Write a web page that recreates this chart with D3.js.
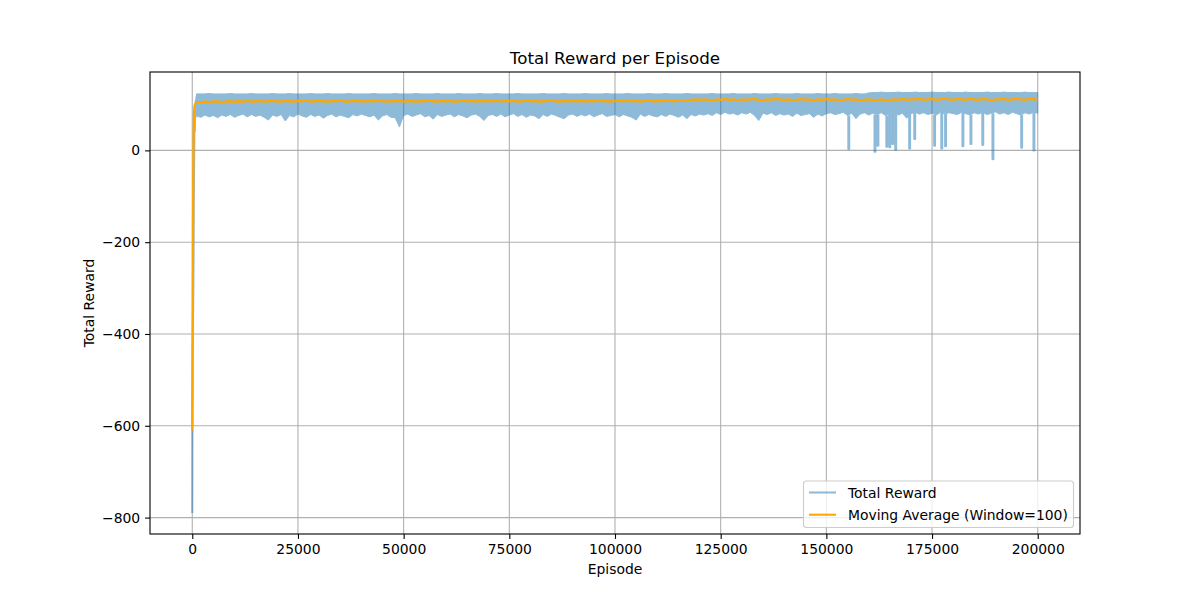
<!DOCTYPE html>
<html><head><meta charset="utf-8">
<script src="https://cdn.jsdelivr.net/npm/d3@7"></script>
<style>body{margin:0;background:#fff}svg{display:block}text{font-family:"DejaVu Sans",sans-serif;fill:#000}</style>
</head><body><svg id="chart" width="1200" height="600"></svg>
<script>
// ---------- DATA ----------
const xTicks = [0, 25000, 50000, 75000, 100000, 125000, 150000, 175000, 200000];
const yTicks = [-800, -600, -400, -200, 0];

// first ~1000 episodes (raw reward and moving average)
const earlyEpisodes = [0, 20, 40, 80, 120, 180, 240, 300, 340, 400, 460, 520, 600, 680, 760, 840, 920, 1000];
const earlyReward   = [-790, -700, -610, -520, -430, -360, -310, -220, -130, -60, 10, 60, 40, 95, 70, 110, 85, 118];
const earlyAvgEpisodes = [0, 60, 120, 180, 240, 300, 400, 500, 700, 1000];
const earlyAvg         = [-610, -480, -330, -170, -40, 30, 75, 95, 102, 104];

// per-1000-episode envelope of the raw reward (episodes 1000..200000)
const rewardHigh = [
 123,123,123,124,123,123,123,123,124,123, 123,123,123,124,123,123,123,123,124,123,
 123,123,124,123,123,123,123,124,123,123, 123,124,123,123,123,123,124,123,123,123,
 123,123,124,123,123,123,123,124,123,123, 123,123,124,123,123,123,123,124,123,123,
 123,123,124,123,123,123,123,124,123,123, 123,124,123,123,123,123,124,123,123,123,
 123,123,124,123,123,123,123,124,123,123, 123,123,124,123,123,123,123,124,123,123,
 123,123,124,123,123,123,123,124,123,123, 123,124,123,123,123,123,124,123,123,123,
 123,123,124,123,123,123,123,124,123,123, 123,123,124,123,123,123,123,124,123,123,
 123,123,124,123,123,123,123,124,123,123, 123,124,123,123,123,123,124,123,123,125,
 126,126,127,126,126,126,127,126,126,126, 127,126,126,126,127,126,126,126,127,126,
 126,126,127,126,126,126,126,127,126,126, 126,127,126,126,126,126,127,126,126,126
];
const rewardLow = [
 75,72,77,73,76,71,77,74,78,72, 76,79,73,78,74,77,72,66,77,74,
 78,64,76,73,79,75,72,78,74,77, 70,76,79,73,77,74,71,78,75,79,
 76,73,77,66,75,78,72,71,51,76, 79,74,77,80,73,76,68,78,74,77,
 79,73,78,75,71,77,79,74,65,76, 78,74,79,73,77,80,74,78,72,77,
 75,69,78,74,79,76,72,69,77,79, 74,78,75,79,73,77,80,74,76,78,
 73,78,75,72,66,79,74,78,75,73, 78,74,79,76,72,77,69,78,75,79,
 77,80,76,82,78,83,79,81,77,82, 79,83,76,65,81,78,82,76,80,77,
 79,74,81,76,78,80,72,79,75,80, 82,78,80,83,76,81,69,79,82,77,
 81,78,82,76,80,83,77,81,70,80, 83,79,82,78,81,77,83,79,82,80,
 78,83,80,77,82,79,83,78,81,84, 79,82,78,83,80,77,82,79,83,81
];
// moving average (window=100) sampled every 1000 episodes (1000..200000)
const movingAvg = [
 104,105,106,105,106,107,105,106,107,106, 107,106,108,106,107,108,106,107,108,107,
 106,108,107,106,108,107,109,106,107,108, 107,106,108,107,109,107,106,108,107,108,
 106,108,107,109,107,106,108,107,108,106, 108,107,106,108,107,109,107,106,108,107,
 108,106,107,109,107,108,106,108,107,108, 107,109,106,108,107,108,106,107,109,107,
 108,106,107,108,109,107,106,108,107,108, 107,108,106,108,107,109,107,108,106,108,
 108,107,109,107,108,106,108,109,107,108, 107,109,108,107,109,108,109,110,111,110,
 111,110,109,111,110,112,110,111,109,111, 110,111,112,110,109,111,110,112,111,110,
 111,109,110,112,110,111,109,111,110,112, 110,111,109,110,112,110,111,109,110,111,
 110,109,111,110,109,111,110,112,110,111, 111,112,110,111,112,110,111,113,111,110,
 112,111,110,112,111,110,112,111,109,111, 111,112,110,111,112,111,110,112,111,111
];
// isolated deep drops of the raw reward
const dipEpisodes = [155300, 161500, 162200, 164300, 165000, 165700, 166400, 169700, 170900, 175600, 177300, 178200, 182300, 184200, 187000, 189400, 196200, 199100];
const dipRewards  = [3, -3, 10, 8, 7, 14, 1, 4, 25, 10, 4, 9, 9, 14, 12, -19, 6, 0];

const bandEpisodes = rewardHigh.map((_, i) => (i + 1) * 1000);

// ---------- CHART ----------
const svg = d3.select("#chart");
const L = 150, R = 1080, T = 72, B = 534;
const x = d3.scaleLinear().domain([-10000, 210000]).range([L, R]);
const y = d3.scaleLinear().domain([-835.75, 170.75]).range([B, T]);
const blue = "#1f77b4", orange = "#ffa500", grid = "#b0b0b0";

svg.append("defs").append("clipPath").attr("id", "clip")
  .append("rect").attr("x", L).attr("y", T).attr("width", R - L).attr("height", B - T);

// grid
const g = svg.append("g");
g.selectAll(".gx").data(xTicks).join("line")
  .attr("x1", d => x(d)).attr("x2", d => x(d)).attr("y1", T).attr("y2", B)
  .attr("stroke", grid).attr("stroke-width", 1.1);
g.selectAll(".gy").data(yTicks).join("line")
  .attr("y1", d => y(d)).attr("y2", d => y(d)).attr("x1", L).attr("x2", R)
  .attr("stroke", grid).attr("stroke-width", 1.1);

// total reward (alpha 0.5 applied to the group so overlaps do not stack)
const tr = svg.append("g").attr("clip-path", "url(#clip)").attr("opacity", 0.5);
const band = bandEpisodes.map((e, i) => ({e, lo: rewardLow[i], hi: rewardHigh[i]}));
tr.append("path").datum(band)
  .attr("d", d3.area().x(d => x(d.e)).y0(d => y(d.lo)).y1(d => y(d.hi)))
  .attr("fill", blue).attr("stroke", blue).attr("stroke-width", 1.0).attr("stroke-linejoin", "miter");
tr.append("path").datum(earlyEpisodes.map((e, i) => [e, earlyReward[i]]))
  .attr("d", d3.line().x(d => x(d[0])).y(d => y(d[1])))
  .attr("fill", "none").attr("stroke", blue).attr("stroke-width", 2.08);
const dipPath = d3.path();
dipEpisodes.forEach((e, i) => {
  const k = Math.min(rewardLow.length - 1, Math.max(0, Math.round(e / 1000) - 1));
  dipPath.moveTo(x(e - 100), y(rewardLow[k]));
  dipPath.lineTo(x(e - 100), y(dipRewards[i]));
  dipPath.lineTo(x(e + 100), y(dipRewards[i]));
  dipPath.lineTo(x(e + 100), y(rewardLow[k]));
});
tr.append("path").attr("d", dipPath.toString())
  .attr("fill", blue).attr("stroke", blue).attr("stroke-width", 2.08).attr("stroke-linejoin", "round");

// moving average
const maPts = earlyAvgEpisodes.map((e, i) => [e, earlyAvg[i]])
  .concat(bandEpisodes.slice(1).map((e, i) => [e, movingAvg[i + 1]]));
svg.append("path").datum(maPts).attr("clip-path", "url(#clip)")
  .attr("d", d3.line().x(d => x(d[0])).y(d => y(d[1])))
  .attr("fill", "none").attr("stroke", orange).attr("stroke-width", 2.3).attr("stroke-linejoin", "round");

// axes
const fmt = d3.format("d");
const xa = svg.append("g").attr("transform", `translate(0,${B})`)
  .call(d3.axisBottom(x).tickValues(xTicks).tickFormat(fmt).tickSize(4.9).tickPadding(4.9).tickSizeOuter(0));
const ya = svg.append("g").attr("transform", `translate(${L},0)`)
  .call(d3.axisLeft(y).tickValues(yTicks).tickFormat(fmt).tickSize(4.9).tickPadding(4.9).tickSizeOuter(0));
[xa, ya].forEach(a => {
  a.select(".domain").remove();
  a.selectAll(".tick line").attr("stroke", "#000").attr("stroke-width", 1.1);
  a.selectAll(".tick text").attr("font-size", "13.9px").attr("font-family", "DejaVu Sans").attr("fill", "#000");
});

// spines
svg.append("rect").attr("x", L).attr("y", T).attr("width", R - L).attr("height", B - T)
  .attr("fill", "none").attr("stroke", "#000").attr("stroke-width", 1.1);

// titles
svg.append("text").attr("x", (L + R) / 2).attr("y", 64).attr("text-anchor", "middle")
  .attr("font-size", "16.7px").text("Total Reward per Episode");
svg.append("text").attr("x", (L + R) / 2).attr("y", 574).attr("text-anchor", "middle")
  .attr("font-size", "13.9px").text("Episode");
svg.append("text").attr("transform", `translate(94,${(T + B) / 2}) rotate(-90)`).attr("text-anchor", "middle")
  .attr("font-size", "13.9px").text("Total Reward");

// legend
const lg = svg.append("g");
lg.append("rect").attr("x", 803.5).attr("y", 481).attr("width", 270).attr("height", 46.5).attr("rx", 3)
  .attr("fill", "#fff").attr("fill-opacity", 0.8).attr("stroke", "#cccccc").attr("stroke-width", 1.1);
const items = [
  {label: "Total Reward", color: blue, op: 0.5},
  {label: "Moving Average (Window=100)", color: orange, op: 1}
];
items.forEach((it, i) => {
  const cy = 492.5 + i * 22.2;
  lg.append("line").attr("x1", 809).attr("x2", 836).attr("y1", cy).attr("y2", cy)
    .attr("stroke", it.color).attr("stroke-opacity", it.op).attr("stroke-width", 2.08);
  lg.append("text").attr("x", 848).attr("y", cy + 5).attr("font-size", "13.9px").text(it.label);
});
</script></body></html>
